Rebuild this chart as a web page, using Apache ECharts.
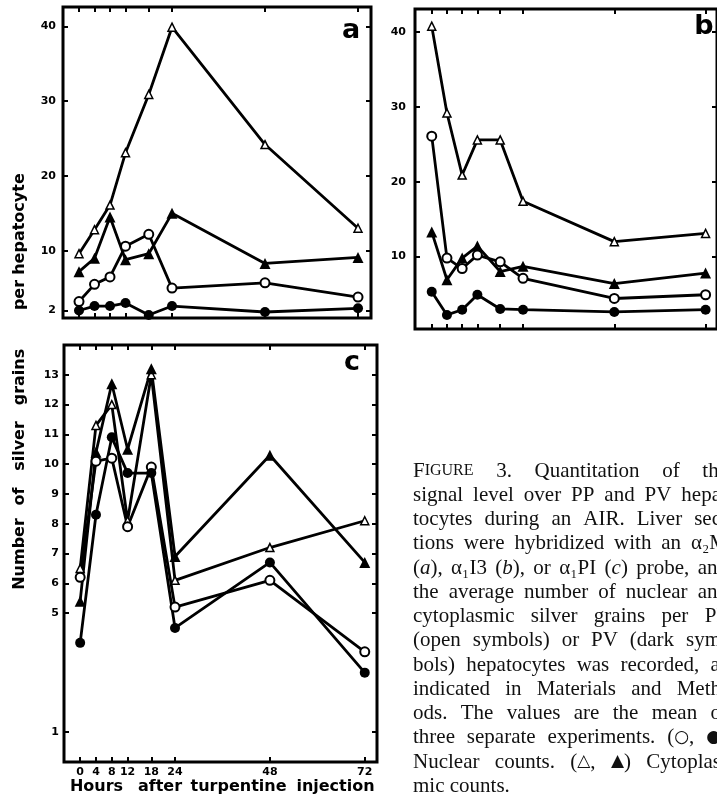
<!DOCTYPE html>
<html><head><meta charset="utf-8">
<script src="https://cdn.jsdelivr.net/npm/echarts@6/dist/echarts.min.js"></script>
<style>html,body{margin:0;padding:0;background:#fff}#c{width:717px;height:796px}</style>
</head><body><div id="c"></div>
<script>
// ---------- data ----------
const hours = [0, 4, 8, 12, 18, 24, 48, 72];
const hourTicks = [0, 4, 8, 12, 18, 24, 48, 72];
const hourLabels = [0, 4, 8, 12, 18, 24, 48, 72];
// panel a (alpha2M probe)
const aNucPP = [3.2, 5.5, 6.5, 10.6, 12.2, 5.0, 5.7, 3.8];
const aNucPV = [2.0, 2.6, 2.6, 3.0, 1.4, 2.6, 1.8, 2.3];
const aCytPP = [9.6, 12.8, 16.1, 23.1, 30.9, 39.9, 24.2, 13.0];
const aCytPV = [7.2, 9.0, 14.5, 8.8, 9.6, 15.0, 8.3, 9.1];
// panel b (alpha1I3 probe)
const bNucPP = [26.1, 9.8, 8.4, 10.2, 9.3, 7.1, 4.4, 4.9];
const bNucPV = [5.3, 2.2, 2.9, 4.9, 3.0, 2.9, 2.6, 2.9];
const bCytPP = [40.8, 29.2, 20.9, 25.6, 25.6, 17.4, 12.0, 13.1];
const bCytPV = [13.3, 6.9, 9.8, 11.4, 8.0, 8.7, 6.4, 7.8];
// panel c (alpha1PI probe)
const cNucPP = [6.2, 10.1, 10.2, 7.9, 9.9, 5.2, 6.1, 3.7];
const cNucPV = [4.0, 8.3, 10.9, 9.7, 9.7, 4.5, 6.7, 3.0];
const cCytPP = [6.5, 11.3, 12.0, 8.1, 13.0, 6.1, 7.2, 8.1];
const cCytPV = [5.4, 10.4, 12.7, 10.5, 13.2, 6.9, 10.3, 6.7];
// tick labels
const aTicks = [2, 10, 20, 30, 40];
const bTicks = [10, 20, 30, 40];
const cTicks = [1, 5, 6, 7, 8, 9, 10, 11, 12, 13];
const panelNames = ['a', 'b', 'c'];
const yTitleWords = ['Number', 'of', 'silver', 'grains', 'per', 'hepatocyte'];
const xTitleWords = ['Hours', 'after', 'turpentine', 'injection'];
const captionLines = [
  'FIGURE 3.  Quantitation of the',
  'signal level over PP and PV hepa-',
  'tocytes during an AIR. Liver sec-',
  'tions were hybridized with an α₂M',
  '(*a*), α₁I3 (*b*), or α₁PI (*c*) probe, and',
  'the average number of nuclear and',
  'cytoplasmic silver grains per PP',
  '(open symbols) or PV (dark sym-',
  'bols) hepatocytes was recorded, as',
  'indicated in Materials and Meth-',
  'ods. The values are the mean of',
  'three separate experiments. (○, ●)',
  'Nuclear counts. (△, ▲) Cytoplas-',
  'mic counts.'
];

// ---------- helpers ----------
const pts = v => hours.map((h, i) => [h, v[i]]);
const labelFont = {color: '#000', fontFamily: 'DejaVu Sans', fontWeight: 'bold', fontSize: 11};

function mkX(g, pos, min, max, showLabel) {
  return {
    type: 'value', gridIndex: g, position: pos, min: min, max: max,
    axisLine: {show: false, onZero: false}, splitLine: {show: false},
    axisTick: {show: true, inside: true, length: 5, lineStyle: {color: '#000', width: 2}, customValues: hourTicks},
    axisLabel: showLabel ? Object.assign({show: true, margin: 5, customValues: hourLabels}, labelFont) : {show: false}
  };
}
function mkY(g, pos, min, max, ticks, showLabel, margin) {
  return {
    type: 'value', gridIndex: g, position: pos, min: min, max: max,
    axisLine: {show: false, onZero: false}, splitLine: {show: false},
    axisTick: {show: true, inside: true, length: 5, lineStyle: {color: '#000', width: 2}, customValues: ticks},
    axisLabel: showLabel ? Object.assign({show: true, margin: margin, customValues: ticks}, labelFont) : {show: false}
  };
}
const styles = {
  nucPP: {symbol: 'circle', symbolSize: 9, itemStyle: {color: '#fff', borderColor: '#000', borderWidth: 2}},
  nucPV: {symbol: 'circle', symbolSize: 10, itemStyle: {color: '#000'}},
  cytPP: {symbol: 'triangle', symbolSize: 8, itemStyle: {color: '#fff', borderColor: '#000', borderWidth: 1.5}},
  cytPV: {symbol: 'triangle', symbolSize: 11, itemStyle: {color: '#000'}}
};
function mkS(g, vals, kind) {
  return Object.assign({
    type: 'line', xAxisIndex: 2 * g, yAxisIndex: 2 * g, data: pts(vals),
    showSymbol: true, animation: false, silent: true,
    lineStyle: {color: '#000', width: 2.8}
  }, styles[kind]);
}

// ---------- caption layout ----------
const measCtx = document.createElement('canvas').getContext('2d');
const capSize = 21;
const baseFont = capSize + 'px "Liberation Serif"';
const italFont = 'italic ' + capSize + 'px "Liberation Serif"';
const scFont = '16px "Liberation Serif"';
const symFont = '17px "DejaVu Sans"';
function measure(t, f) { measCtx.font = f; return measCtx.measureText(t).width; }
function wordParts(w) {
  if (w === 'FIGURE') return [{t: 'F', f: baseFont}, {t: 'IGURE', f: scFont}];
  const parts = []; const re = /\*([^*]+)\*|([○●△▲])/g; let last = 0, m;
  while ((m = re.exec(w))) {
    if (m.index > last) parts.push({t: w.slice(last, m.index), f: baseFont});
    if (m[1]) parts.push({t: m[1], f: italFont});
    else parts.push({t: m[2], f: symFont});
    last = re.lastIndex;
  }
  if (last < w.length) parts.push({t: w.slice(last), f: baseFont});
  return parts;
}
const graphics = [];
const capLeft = 413, capRight = 728, capTop = 471, capStep = 24.25;
captionLines.forEach((line, li) => {
  const words = line.split(' ').filter(Boolean).map(wordParts);
  const widths = words.map(ps => ps.reduce((s, p) => s + measure(p.t, p.f), 0));
  const total = widths.reduce((a, b) => a + b, 0);
  const isLast = li === captionLines.length - 1;
  const gap = isLast ? measure(' ', baseFont) : (capRight - capLeft - total) / (words.length - 1);
  let x = capLeft;
  const y = capTop + li * capStep;
  words.forEach((ps, wi) => {
    let px = x;
    ps.forEach(p => {
      graphics.push({type: 'text', x: px, y: y, silent: true,
        style: {text: p.t, font: p.f, fill: '#111', align: 'left', verticalAlign: 'middle'}});
      px += measure(p.t, p.f);
    });
    x += widths[wi] + gap;
  });
});

// axis titles (word positions)
const yTitleCenters = [554, 496.5, 446, 377, 295, 224];
yTitleWords.forEach((w, i) => {
  graphics.push({type: 'text', x: 20, y: yTitleCenters[i], rotation: Math.PI / 2, silent: true,
    style: {text: w, font: 'bold 16px "DejaVu Sans"', fill: '#000', align: 'center', verticalAlign: 'middle'}});
});
const xTitleCenters = [96.5, 160, 238.5, 335.5];
xTitleWords.forEach((w, i) => {
  graphics.push({type: 'text', x: xTitleCenters[i], y: 787, silent: true,
    style: {text: w, font: 'bold 16px "DejaVu Sans"', fill: '#000', align: 'center', verticalAlign: 'middle'}});
});
// panel letters
const letterPos = [[351, 31], [704, 27], [352, 363]];
panelNames.forEach((n, i) => {
  graphics.push({type: 'text', x: letterPos[i][0], y: letterPos[i][1], silent: true,
    style: {text: n, font: 'bold 27px "DejaVu Sans"', fill: '#000', align: 'center', verticalAlign: 'middle'}});
});

const gridBase = {show: true, borderColor: '#000', borderWidth: 3, backgroundColor: 'transparent', containLabel: false};
const option = {
  animation: false,
  backgroundColor: '#fff',
  grid: [
    Object.assign({left: 63, top: 7, width: 308, height: 311}, gridBase),
    Object.assign({left: 415, top: 9, width: 307, height: 320}, gridBase),
    Object.assign({left: 64, top: 345, width: 313, height: 417}, gridBase)
  ],
  xAxis: [
    mkX(0, 'bottom', -4.13, 75.35, false), mkX(0, 'top', -4.13, 75.35, false),
    mkX(1, 'bottom', -4.4, 75.0, false), mkX(1, 'top', -4.4, 75.0, false),
    mkX(2, 'bottom', -4.09, 75.1, true), mkX(2, 'top', -4.09, 75.1, false)
  ],
  yAxis: [
    mkY(0, 'left', 1.0, 42.6, aTicks, true, 7), mkY(0, 'right', 1.0, 42.6, aTicks, false),
    mkY(1, 'left', 0.32, 43.1, bTicks, true, 9), mkY(1, 'right', 0.32, 43.1, bTicks, false),
    mkY(2, 'left', 0, 14, cTicks, true, 5), mkY(2, 'right', 0, 14, cTicks, false)
  ],
  series: [
    mkS(0, aCytPP, 'cytPP'), mkS(0, aCytPV, 'cytPV'), mkS(0, aNucPP, 'nucPP'), mkS(0, aNucPV, 'nucPV'),
    mkS(1, bCytPP, 'cytPP'), mkS(1, bCytPV, 'cytPV'), mkS(1, bNucPP, 'nucPP'), mkS(1, bNucPV, 'nucPV'),
    mkS(2, cCytPP, 'cytPP'), mkS(2, cCytPV, 'cytPV'), mkS(2, cNucPP, 'nucPP'), mkS(2, cNucPV, 'nucPV')
  ],
  graphic: graphics
};
const chart = echarts.init(document.getElementById('c'), null, {renderer: 'canvas'});
chart.setOption(option);
</script>
</body></html>
